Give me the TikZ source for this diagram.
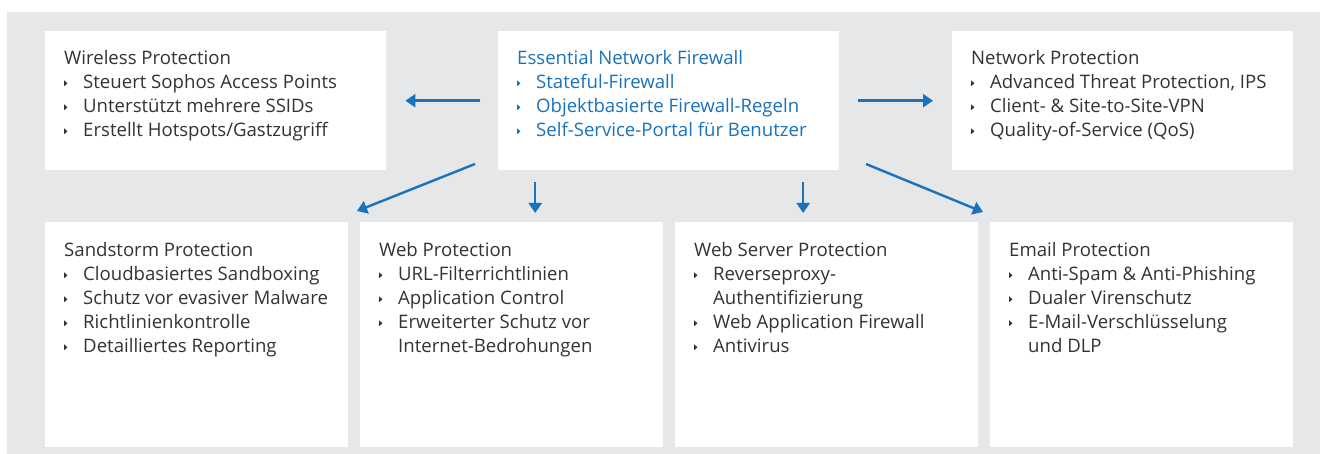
\documentclass[tikz,border=0pt]{standalone}
\usepackage{fontspec}
\setmainfont{Open Sans}
\usetikzlibrary{arrows.meta}
\definecolor{bggray}{HTML}{E6E7E9}
\definecolor{txtgray}{HTML}{333333}
\definecolor{sblue}{HTML}{1A72BB}
\newcommand\bul{\makebox[19pt][l]{\tikz[baseline=0pt]\fill (0.6pt,2.8pt) -- (0.6pt,8.6pt) -- (3.8pt,5.7pt) -- cycle;}}
\newcommand\Ln[1]{\hbox{#1}}
\newcommand\It[1]{\hbox{\bul#1}}
\newcommand\Ct[1]{\hbox{\hspace*{19pt}#1}}
\newcommand\Block[1]{\vtop{\baselineskip=24pt\lineskip=0pt\lineskiplimit=-100pt #1}}
\begin{document}
\begin{tikzpicture}[x=1pt,y=-1pt,
  panel/.style={fill=white,draw=none,inner sep=0pt,anchor=north west},
  toppanel/.style={panel,minimum width=341pt,minimum height=139pt},
  botpanel/.style={panel,minimum width=303pt,minimum height=225pt},
  txt/.style={inner sep=0pt,anchor=base west,text=txtgray,font=\fontsize{18.6}{24}\selectfont},
  bluetxt/.style={txt,text=sblue},
  arr/.style={draw=sblue,line width=2.4pt,-{Triangle[length=10pt,width=13pt]}}]
\useasboundingbox (0,0) rectangle (1320,454);
\fill[white] (0,0) rectangle (1320,454);
\fill[bggray] (7,12) rectangle (1320,454);

% top row
\node[toppanel] (wl) at (45,31) {};
\node[toppanel] (ess) at (498,31) {};
\node[toppanel] (net) at (952,31) {};
% bottom row
\node[botpanel] (sand) at (45,222) {};
\node[botpanel] (web) at (360,222) {};
\node[botpanel] (wsrv) at (675,222) {};
\node[botpanel] (mail) at (990,222) {};

\node[txt] (wltxt) at (64,65) {\Block{\Ln{Wireless Protection}
  \It{Steuert Sophos Access Points}
  \It{Unterstützt mehrere SSIDs}
  \It{Erstellt Hotspots/Gastzugriff}}};
\node[bluetxt] (esstxt) at (517,65) {\Block{\Ln{Essential Network Firewall}
  \It{Stateful-Firewall}
  \It{Objektbasierte Firewall-Regeln}
  \It{Self-Service-Portal für Benutzer}}};
\node[txt] (nettxt) at (971,65) {\Block{\Ln{Network Protection}
  \It{Advanced Threat Protection, IPS}
  \It{Client- \& Site-to-Site-VPN}
  \It{Quality-of-Service (QoS)}}};

\node[txt] (sandtxt) at (64,257) {\Block{\Ln{Sandstorm Protection}
  \It{Cloudbasiertes Sandboxing}
  \It{Schutz vor evasiver Malware}
  \It{Richtlinienkontrolle}
  \It{Detailliertes Reporting}}};
\node[txt] (webtxt) at (379,257) {\Block{\Ln{Web Protection}
  \It{URL-Filterrichtlinien}
  \It{Application Control}
  \It{Erweiterter Schutz vor}
  \Ct{Internet-Bedrohungen}}};
\node[txt] (wsrvtxt) at (694,257) {\Block{\Ln{Web Server Protection}
  \It{Reverseproxy-}
  \Ct{Authentifizierung}
  \It{Web Application Firewall}
  \It{Antivirus}}};
\node[txt] (mailtxt) at (1009,257) {\Block{\Ln{Email Protection}
  \It{Anti-Spam \& Anti-Phishing}
  \It{Dualer Virenschutz}
  \It{E-Mail-Verschlüsselung}
  \Ct{und DLP}}};

% arrows
\draw[arr,shorten <=18pt,shorten >=19pt] (ess.west) -- (wl.east);
\draw[arr,shorten <=19pt,shorten >=19pt] (ess.east) -- (net.west);
\coordinate (d1s) at ([xshift=-133.5pt]ess.south);
\coordinate (d2s) at ([xshift=134.5pt]ess.south);
\draw[arr,shorten <=12pt,shorten >=9pt] (d1s) -- (d1s |- web.north);
\draw[arr,shorten <=12pt,shorten >=9pt] (d2s) -- (d2s |- wsrv.north);
\coordinate (dl1) at (475,164);
\coordinate (dl2) at (357,211);
\coordinate (dr1) at (866,164);
\coordinate (dr2) at (983,212);
\draw[arr] (dl1) -- (dl2);
\draw[arr] (dr1) -- (dr2);
\end{tikzpicture}
\end{document}
